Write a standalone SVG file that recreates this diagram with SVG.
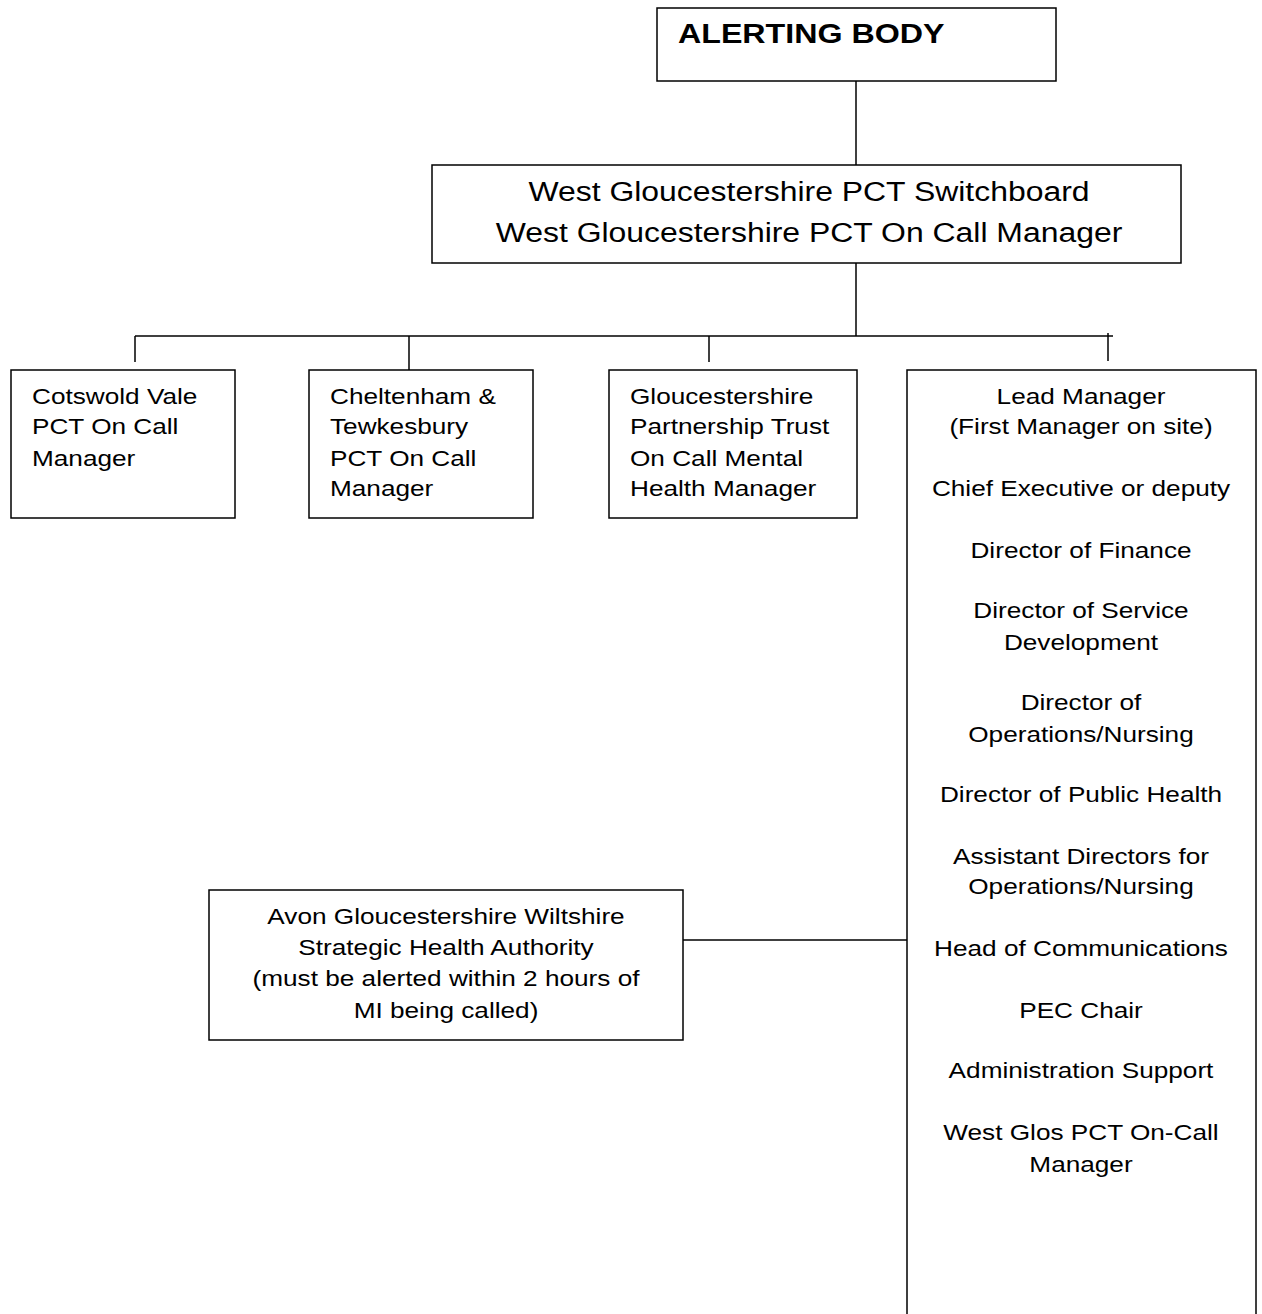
<svg xmlns="http://www.w3.org/2000/svg" width="1262" height="1314" viewBox="0 0 1262 1314">
<style>
rect{fill:#fff;stroke:#000;stroke-width:1.5}
.c line{stroke:#000;stroke-width:1.5}
text{font-family:"Liberation Sans",Arial,sans-serif;fill:#000}
.b{font-size:22px}
.m{text-anchor:middle}
.h{font-size:28px}
.hb{font-size:28px;font-weight:bold}
</style>
<rect width="1262" height="1314" style="stroke:none"/>
<g class="c" id="connectors">
<line x1="856" y1="81" x2="856" y2="165"/>
<line x1="856" y1="263" x2="856" y2="336"/>
<line x1="135" y1="336" x2="1113" y2="336"/>
<line x1="135" y1="336" x2="135" y2="362"/>
<line x1="409" y1="336" x2="409" y2="370"/>
<line x1="709" y1="336" x2="709" y2="362"/>
<line x1="1108" y1="333" x2="1108" y2="361"/>
<line x1="683" y1="940" x2="910" y2="940"/>
</g>
<g id="alerting">
<rect x="657" y="8" width="399" height="73"/>
<g transform="translate(678,0) scale(1.15,1)"><text class="hb" x="0" y="43">ALERTING BODY</text></g>
</g>
<g id="switchboard">
<rect x="432" y="165" width="749" height="98"/>
<g transform="translate(809,0) scale(1.14,1)">
<text class="h m" x="0" y="201">West Gloucestershire PCT Switchboard</text>
<text class="h m" x="0" y="242">West Gloucestershire PCT On Call Manager</text>
</g>
</g>
<g id="cotswold">
<rect x="11" y="370" width="224" height="148"/>
<g transform="translate(32,0) scale(1.19,1)" class="b">
<text x="0" y="404">Cotswold Vale</text>
<text x="0" y="434">PCT On Call</text>
<text x="0" y="466">Manager</text>
</g>
</g>
<g id="cheltenham">
<rect x="309" y="370" width="224" height="148"/>
<g transform="translate(330,0) scale(1.19,1)" class="b">
<text x="0" y="404">Cheltenham &amp;</text>
<text x="0" y="434">Tewkesbury</text>
<text x="0" y="466">PCT On Call</text>
<text x="0" y="496">Manager</text>
</g>
</g>
<g id="gloucestershire">
<rect x="609" y="370" width="248" height="148"/>
<g transform="translate(630,0) scale(1.19,1)" class="b">
<text x="0" y="404">Gloucestershire</text>
<text x="0" y="434">Partnership Trust</text>
<text x="0" y="466">On Call Mental</text>
<text x="0" y="496">Health Manager</text>
</g>
</g>
<g id="lead">
<rect x="907" y="370" width="349" height="960"/>
<g transform="translate(1081,0) scale(1.19,1)" class="b m">
<text x="0" y="404">Lead Manager</text>
<text x="0" y="434">(First Manager on site)</text>
<text x="0" y="496">Chief Executive or deputy</text>
<text x="0" y="558">Director of Finance</text>
<text x="0" y="618">Director of Service</text>
<text x="0" y="650">Development</text>
<text x="0" y="710">Director of</text>
<text x="0" y="742">Operations/Nursing</text>
<text x="0" y="802">Director of Public Health</text>
<text x="0" y="864">Assistant Directors for</text>
<text x="0" y="894">Operations/Nursing</text>
<text x="0" y="956">Head of Communications</text>
<text x="0" y="1018">PEC Chair</text>
<text x="0" y="1078">Administration Support</text>
<text x="0" y="1140">West Glos PCT On-Call</text>
<text x="0" y="1172">Manager</text>
</g>
</g>
<g id="avon">
<rect x="209" y="890" width="474" height="150"/>
<g transform="translate(446,0) scale(1.19,1)" class="b m">
<text x="0" y="924">Avon Gloucestershire Wiltshire</text>
<text x="0" y="955">Strategic Health Authority</text>
<text x="0" y="986">(must be alerted within 2 hours of</text>
<text x="0" y="1018">MI being called)</text>
</g>
</g>
</svg>
